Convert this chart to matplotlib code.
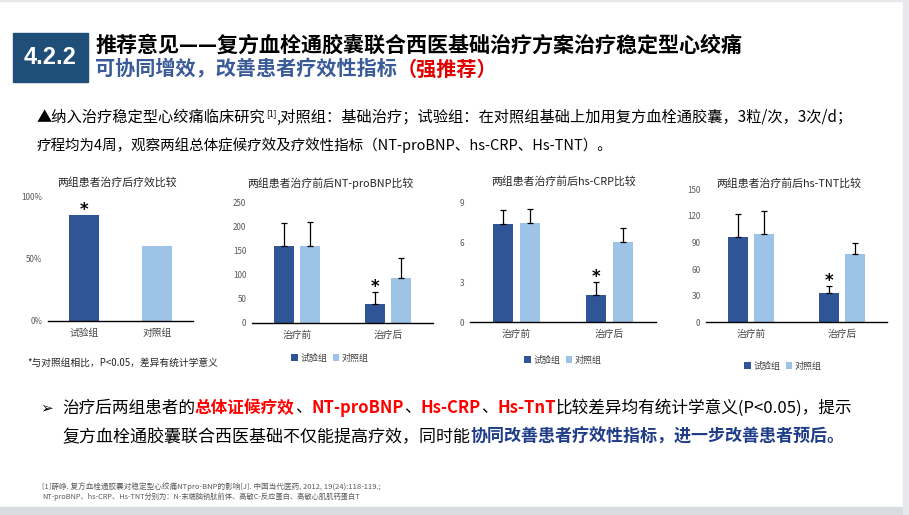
import numpy as np
import matplotlib
matplotlib.use('Agg')
import matplotlib.pyplot as plt
from matplotlib.patches import Rectangle

plt.rcParams['font.family'] = ['Noto Sans CJK SC', 'DejaVu Sans']

# ---- data ----
effect_groups = ['试验组', '对照组']
effect_vals = [0.853, 0.603]          # share of effective cases

phases = ['治疗前', '治疗后']
bnp_test = [161, 40]
bnp_test_err = [47, 24]
bnp_ctrl = [160, 94]
bnp_ctrl_err = [50, 41]

crp_test = [7.35, 2.05]
crp_test_err = [1.1, 1.0]
crp_ctrl = [7.43, 6.0]
crp_ctrl_err = [1.05, 1.1]

tnt_test = [96, 33]
tnt_test_err = [26, 8]
tnt_ctrl = [100, 77]
tnt_ctrl_err = [26, 13]

legend_labels = ['试验组', '对照组']

DARK = '#2F5597'
LIGHT = '#9DC3E6'
TICKC = '#595959'

W, H = 909, 515
fig = plt.figure(figsize=(W / 100, H / 100), dpi=100)
fig.patch.set_facecolor('white')


def px_axes(l, t, r, b):
  return fig.add_axes([l / W, 1 - b / H, (r - l) / W, (b - t) / H])


def rich(x, y, parts, size, width=None, va='center'):
  # draw coloured runs of text one after another (x, y in pixels);
  # a part may carry a 4th item: relative size and vertical shift (superscript)
  # if width is given the font size is adjusted so the line spans it
  renderer = fig.canvas.get_renderer()
  texts = []
  for p in parts:
    txt, color, weight = p[:3]
    rel = p[3] if len(p) > 3 else 1.0
    t = fig.text(0, 0, txt, color=color, fontsize=size * rel,
                 fontweight=weight, ha='left', va=va)
    texts.append((t, rel))
  if width is not None:
    total = sum(t.get_window_extent(renderer).width for t, _ in texts)
    size = size * width / total
    for t, rel in texts:
      t.set_fontsize(size * rel)
  cx = x
  for t, rel in texts:
    dy = 0 if rel == 1.0 else size * 0.35
    t.set_position((cx / W, 1 - (y - dy) / H))
    cx += t.get_window_extent(renderer).width
  return cx


def style_axes(ax, ymax, yticks, ylabels):
  for s in ['top', 'right', 'left']:
    ax.spines[s].set_visible(False)
  ax.spines['bottom'].set_color('black')
  ax.spines['bottom'].set_linewidth(1.0)
  ax.set_ylim(0, ymax)
  ax.set_yticks(yticks)
  ax.set_yticklabels(ylabels)
  ax.set_xlim(-0.5, 1.5)
  ax.tick_params(axis='y', length=0, labelsize=5.8, labelcolor=TICKC, pad=4)
  ax.tick_params(axis='x', length=0, labelsize=7, labelcolor='#404040', pad=5)
  ax.set_facecolor('none')


def grouped(ax, test, test_err, ctrl, ctrl_err, ymax, yticks):
  x = np.arange(len(phases))
  w = 0.22
  off = 0.145
  ax.bar(x - off, test, w, color=DARK, label=legend_labels[0],
         yerr=[[0] * len(test), test_err], capsize=2.5,
         error_kw=dict(elinewidth=0.9, capthick=0.9, ecolor='black'))
  ax.bar(x + off, ctrl, w, color=LIGHT, label=legend_labels[1],
         yerr=[[0] * len(ctrl), ctrl_err], capsize=2.5,
         error_kw=dict(elinewidth=0.9, capthick=0.9, ecolor='black'))
  style_axes(ax, ymax, yticks, [str(v) for v in yticks])
  ax.set_xticks(x)
  ax.set_xticklabels(phases)
  ax.annotate('*', (x[1] - off, test[1] + test_err[1]), xytext=(0, -3),
              textcoords='offset points', ha='center', va='bottom',
              fontsize=12, fontweight='bold', family=['DejaVu Sans'])


# ---- slide frame ----
fig.add_artist(Rectangle((0, 0), 1, 8 / H, transform=fig.transFigure,
                         color='#D9DCE0', zorder=0))
fig.add_artist(Rectangle((903 / W, 0), 6 / W, 1, transform=fig.transFigure,
                         color='#E6E8EB', zorder=0))
fig.add_artist(Rectangle((0, 1 - 1 / H), 1, 1 / H, transform=fig.transFigure,
                         color='#E6E8EB', zorder=0))

# ---- header ----
fig.add_artist(Rectangle((13 / W, 1 - 82 / H), 75 / W, 49 / H,
                         transform=fig.transFigure, color='#1F4E79', zorder=1))
fig.text(50.5 / W, 1 - 58 / H, '4.2.2', color='white', fontsize=17,
         fontweight='bold', family='Liberation Sans', ha='center', va='center')

rich(95, 45, [('推荐意见——复方血栓通胶囊联合西医基础治疗方案治疗稳定型心绞痛', 'black', 'bold')],
     14.2, width=650)
rich(95, 69, [('可协同增效，改善患者疗效性指标', '#3A5A98', 'bold'),
              ('（强推荐）', '#E00000', 'bold')], 13.6, width=402)

rich(37, 117, [('▲纳入治疗稳定型心绞痛临床研究', 'black', 'normal'),
               ('[1]', 'black', 'normal', 0.55),
               (',对照组：基础治疗；试验组：在对照组基础上加用复方血栓通胶囊，3粒/次，3次/d；', 'black', 'normal')],
     9.2, width=813)
rich(37, 145, [('疗程均为4周，观察两组总体症候疗效及疗效性指标（NT-proBNP、hs-CRP、Hs-TNT）。', 'black', 'normal')],
     9.2, width=575)

# ---- chart 1: overall efficacy ----
ax1 = px_axes(47.7, 196.7, 193, 321)
ax1.bar(np.arange(len(effect_groups)), effect_vals, 0.41, color=[DARK, LIGHT])
style_axes(ax1, 1.0, [0, 0.5, 1.0], ['0%', '50%', '100%'])
ax1.set_xticks(np.arange(len(effect_groups)))
ax1.set_xticklabels(effect_groups)
ax1.annotate('*', (0, effect_vals[0]), xytext=(0, -3), textcoords='offset points',
             ha='center', va='bottom', fontsize=12, fontweight='bold',
             family=['DejaVu Sans'])
fig.text(117.5 / W, 1 - 182 / H, '两组患者治疗后疗效比较', fontsize=7.8,
         ha='center', va='center', color='#262626')
rich(27, 363, [('*与对照组相比，P<0.05，差异有统计学意义', '#262626', 'normal')], 5.6, width=190)

# ---- chart 2: NT-proBNP ----
ax2 = px_axes(252, 203, 433, 323)
grouped(ax2, bnp_test, bnp_test_err, bnp_ctrl, bnp_ctrl_err, 250, [0, 50, 100, 150, 200, 250])
fig.text(330 / W, 1 - 183 / H, '两组患者治疗前后NT-proBNP比较', fontsize=7.8,
         ha='center', va='center', color='#262626')

# ---- chart 3: hs-CRP ----
ax3 = px_axes(470, 202.3, 656, 322.3)
grouped(ax3, crp_test, crp_test_err, crp_ctrl, crp_ctrl_err, 9, [0, 3, 6, 9])
fig.text(563.5 / W, 1 - 181 / H, '两组患者治疗前后hs-CRP比较', fontsize=7.8,
         ha='center', va='center', color='#262626')

# ---- chart 4: hs-TNT ----
ax4 = px_axes(706, 189.3, 887, 322.3)
grouped(ax4, tnt_test, tnt_test_err, tnt_ctrl, tnt_ctrl_err, 150, [0, 30, 60, 90, 120, 150])
fig.text(788.5 / W, 1 - 183 / H, '两组患者治疗前后hs-TNT比较', fontsize=7.8,
         ha='center', va='center', color='#262626')

for ax, cx, cy in [(ax2, 330, 358), (ax3, 563, 360), (ax4, 783, 366)]:
  ax.legend(loc='center', bbox_to_anchor=(cx / W, 1 - cy / H),
            bbox_transform=fig.transFigure, ncol=2, frameon=False,
            fontsize=6.5, handlelength=0.7, handleheight=0.7,
            columnspacing=0.6, handletextpad=0.3, labelcolor='#404040')

# ---- conclusion ----
fig.text(40 / W, 1 - 408 / H, '➢', fontsize=11, ha='left', va='center',
         family=['DejaVu Sans'])
rich(62, 408, [('治疗后两组患者的', 'black', 'normal'),
               ('总体证候疗效', '#FF0000', 'bold'),
               ('、', 'black', 'normal'),
               ('NT-proBNP', '#FF0000', 'bold'),
               ('、', 'black', 'normal'),
               ('Hs-CRP', '#FF0000', 'bold'),
               ('、', 'black', 'normal'),
               ('Hs-TnT', '#FF0000', 'bold'),
               ('比较差异均有统计学意义(P<0.05)，提示', 'black', 'normal')], 11.3, width=793)
rich(62, 437, [('复方血栓通胶囊联合西医基础不仅能提高疗效，同时能', 'black', 'normal'),
               ('协同改善患者疗效性指标，进一步改善患者预后。', '#1F3C88', 'bold')], 11.3, width=786)

# ---- reference footnote ----
rich(42, 487, [('[1]薛峥. 复方血栓通胶囊对稳定型心绞痛NTpro-BNP的影响[J]. 中国当代医药, 2012, 19(24):118-119.;',
                '#595959', 'normal')], 4.6, width=338)
rich(42, 497, [('NT-proBNP、hs-CRP、Hs-TNT分别为：N-末端脑钠肽前体、高敏C-反应蛋白、高敏心肌肌钙蛋白T',
                '#595959', 'normal')], 4.6, width=318)

fig.savefig('out.png', dpi=100)
